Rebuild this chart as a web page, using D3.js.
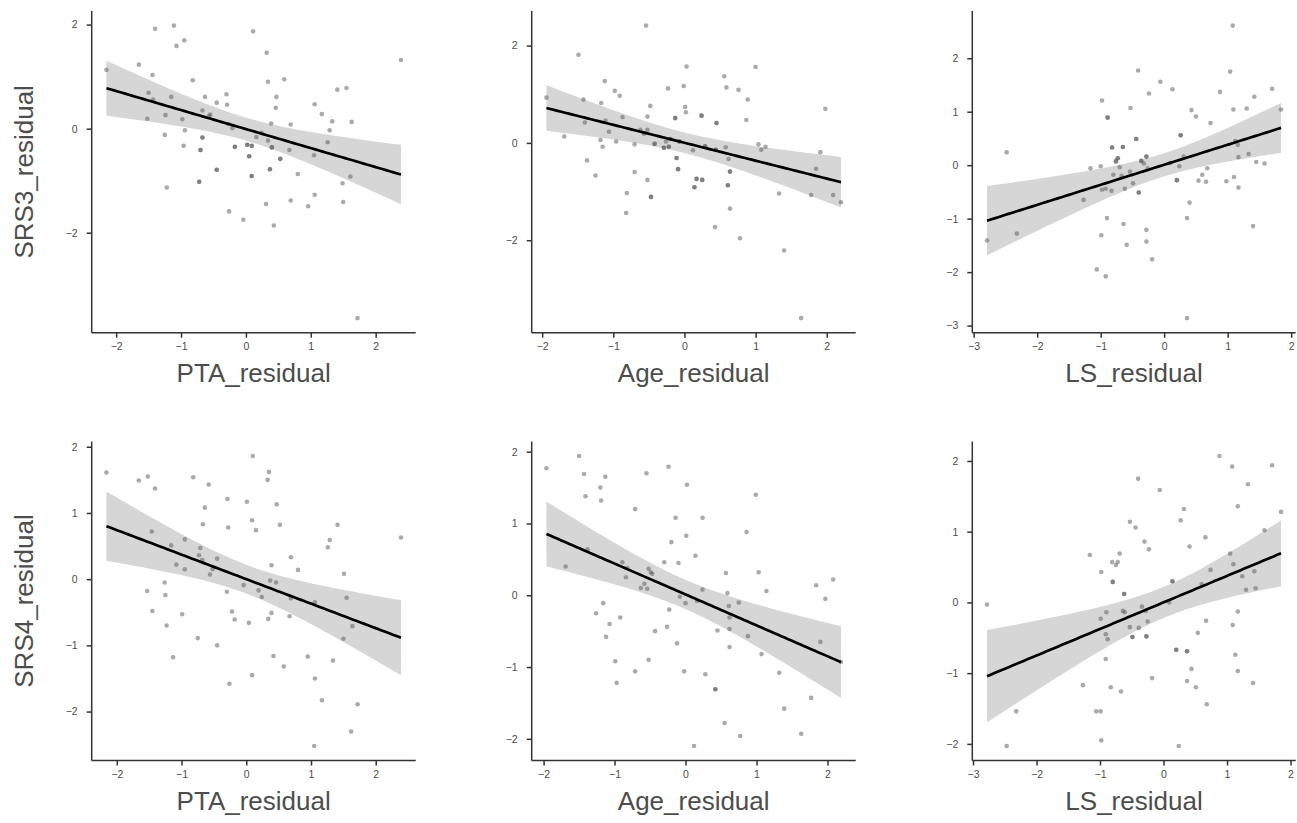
<!DOCTYPE html>
<html><head><meta charset="utf-8">
<script src="https://cdn.jsdelivr.net/npm/d3@7"></script>
<style>
body{margin:0;background:#fff}
svg{display:block}
text{font-family:"Liberation Sans",Arial,Helvetica,sans-serif}
</style>
</head><body>
<svg id="chart" width="1297" height="823"></svg>
<script>
// ---------------- data ----------------
const xTitles = ["PTA_residual", "Age_residual", "LS_residual"];
const yTitles = ["SRS3_residual", "SRS4_residual"];

const xTicksPTA = [-2, -1, 0, 1, 2];
const xTicksAge = [-2, -1, 0, 1, 2];
const xTicksLS  = [-3, -2, -1, 0, 1, 2];
const yTicksSRS3a = [-2, 0, 2];
const yTicksSRS3b = [-3, -2, -1, 0, 1, 2];
const yTicksSRS4 = [-2, -1, 0, 1, 2];

// [x, y] per participant
const PTA_SRS3 = [[-2.15,1.13],[-1.65,1.23],[-1.44,1.03],[-1.40,1.92],[-1.11,1.98],[-1.07,1.59],[-0.95,1.70],[-1.50,0.69],[-1.43,0.56],[-1.52,0.19],[-1.24,0.26],[-1.15,0.61],[-1.25,-0.12],[-1.22,-1.13],[-0.98,0.18],[-0.94,-0.03],[-0.96,-0.33],[-0.82,0.93],[-0.67,-0.17],[-0.70,-0.41],[-0.72,-1.02],[-0.63,0.61],[-0.67,0.35],[-0.55,0.27],[-0.57,0.24],[-0.45,0.50],[-0.30,0.66],[-0.29,0.46],[-0.45,-0.79],[-0.26,-1.59],[-0.21,0.01],[-0.17,-0.35],[-0.27,0.09],[-0.04,-1.75],[0.02,-0.31],[0.09,-0.33],[0.05,-0.53],[0.09,-0.91],[0.11,1.87],[0.16,-0.16],[0.24,-0.08],[0.32,1.46],[0.34,0.90],[0.34,-0.23],[0.39,0.10],[0.40,-0.36],[0.31,-1.45],[0.37,-0.78],[0.43,-1.86],[0.47,0.61],[0.46,0.40],[0.53,-0.58],[0.59,0.95],[0.69,0.08],[0.67,-0.41],[0.69,-1.38],[0.80,-0.87],[0.96,-1.49],[1.06,0.47],[1.05,-0.51],[1.06,-1.27],[1.17,0.28],[1.26,-0.26],[1.29,-0.03],[1.33,0.14],[1.41,0.75],[1.55,0.78],[1.63,0.13],[1.61,-0.92],[1.49,-1.05],[1.50,-1.41],[1.72,-3.64],[2.39,1.32]];
// points that appear darker (overplotted) in the figure
const PTA_SRS3_dark = [[-0.67,-0.17],[-0.70,-0.41],[-0.72,-1.02],[-0.45,-0.79],[-0.17,-0.35],[0.02,-0.31],[0.09,-0.33],[0.05,-0.53],[0.09,-0.91],[0.40,-0.36],[0.37,-0.78],[0.53,-0.58]];

const Age_SRS3 = [[-1.94,0.93],[-1.69,0.13],[-1.49,1.81],[-1.42,0.89],[-1.40,0.42],[-1.37,-0.36],[-1.25,-0.67],[-1.18,0.06],[-1.17,0.82],[-1.15,-0.08],[-1.12,1.27],[-1.11,0.46],[-1.06,0.23],[-0.98,1.07],[-0.96,0.03],[-0.91,0.97],[-0.87,0.53],[-0.82,-1.44],[-0.81,-1.03],[-0.70,-0.03],[-0.70,-0.60],[-0.62,0.27],[-0.57,0.19],[-0.54,2.41],[-0.52,0.27],[-0.52,0.54],[-0.52,-0.76],[-0.48,0.76],[-0.47,-1.11],[-0.42,-0.02],[-0.29,-0.10],[-0.26,0.03],[-0.23,1.12],[-0.22,-0.08],[-0.20,0.08],[-0.13,0.51],[-0.11,-0.31],[-0.09,-0.54],[-0.07,0.03],[-0.01,1.17],[0.01,0.74],[0.02,0.63],[0.03,1.57],[0.12,-0.15],[0.17,-0.74],[0.24,0.56],[0.25,-0.76],[0.14,-0.91],[0.29,-0.07],[0.43,-1.73],[0.44,-0.14],[0.45,0.41],[0.56,1.37],[0.58,-0.09],[0.59,1.14],[0.62,-0.33],[0.64,-0.59],[0.61,-0.87],[0.64,-1.35],[0.76,1.09],[0.78,-1.96],[0.87,0.47],[0.89,0.89],[1.00,1.56],[1.04,-0.03],[1.08,-0.14],[1.14,-0.08],[1.33,-1.04],[1.40,-2.21],[1.64,-3.60],[1.78,-1.07],[1.85,-0.53],[1.91,-0.19],[1.98,0.70],[2.09,-1.07],[2.20,-1.22]];
const Age_SRS3_dark = [[-0.47,-1.11],[-0.42,-0.02],[-0.29,-0.10],[-0.22,-0.08],[-0.20,0.08],[-0.13,0.51],[-0.11,-0.31],[-0.09,-0.54],[-0.07,0.03],[0.17,-0.74],[0.24,0.56],[0.25,-0.76],[0.14,-0.91],[0.29,-0.07],[0.44,-0.14],[0.45,0.41],[0.64,-0.59],[0.61,-0.87]];

const LS_SRS3 = [[-2.79,-1.41],[-2.48,0.24],[-2.32,-1.28],[-1.27,-0.65],[-1.16,-0.06],[-1.06,-1.95],[-1.00,-0.02],[-0.99,-1.31],[-0.98,1.21],[-0.98,-0.46],[-0.92,-0.44],[-0.92,-2.08],[-0.90,-0.99],[-0.89,0.89],[-0.83,-0.48],[-0.82,0.33],[-0.80,-0.18],[-0.76,0.07],[-0.73,0.13],[-0.70,-0.04],[-0.67,-0.20],[-0.65,0.34],[-0.64,-1.10],[-0.62,-0.44],[-0.59,-1.49],[-0.54,-0.12],[-0.53,1.07],[-0.49,-0.34],[-0.44,0.49],[-0.41,1.77],[-0.40,-0.51],[-0.36,0.08],[-0.32,0.03],[-0.28,0.16],[-0.28,-1.21],[-0.28,-1.43],[-0.26,-0.06],[-0.24,1.34],[-0.19,-1.76],[-0.06,1.56],[0.09,0.04],[0.13,1.42],[0.20,-0.28],[0.24,-0.02],[0.26,0.56],[0.31,0.16],[0.36,-0.99],[0.36,-2.86],[0.40,-0.70],[0.43,1.03],[0.50,0.91],[0.54,-0.29],[0.60,-0.18],[0.66,-0.31],[0.68,-0.06],[0.73,0.79],[0.88,1.37],[0.98,-0.30],[1.04,1.75],[1.08,2.61],[1.09,1.04],[1.10,-0.22],[1.12,0.45],[1.16,0.38],[1.17,-0.42],[1.17,0.15],[1.30,1.06],[1.33,0.21],[1.40,-1.14],[1.42,1.28],[1.45,0.06],[1.58,0.03],[1.70,1.43],[1.84,1.04]];
const LS_SRS3_dark = [[-0.89,0.89],[-0.82,0.33],[-0.76,0.07],[-0.73,0.13],[-0.65,0.34],[-0.44,0.49],[-0.40,-0.51],[-0.36,0.08],[-0.28,0.16],[0.20,-0.28],[0.26,0.56]];

const PTA_SRS4 = [[-2.16,1.61],[-1.66,1.49],[-1.52,1.55],[-1.41,1.37],[-1.46,0.72],[-1.53,-0.18],[-1.45,-0.48],[-1.26,-0.05],[-1.25,-0.24],[-1.23,-0.70],[-1.16,0.51],[-1.13,-1.18],[-1.08,0.22],[-0.95,0.60],[-0.95,0.15],[-0.99,-0.53],[-0.82,1.54],[-0.75,-0.89],[-0.73,0.36],[-0.71,0.47],[-0.68,0.29],[-0.67,0.83],[-0.64,1.08],[-0.58,1.43],[-0.56,0.07],[-0.52,0.15],[-0.45,-1.00],[-0.45,0.31],[-0.30,-0.19],[-0.29,1.21],[-0.28,0.78],[-0.26,-1.58],[-0.22,-0.49],[-0.18,-0.61],[-0.04,-0.09],[0.01,1.17],[0.04,-0.66],[0.09,0.89],[0.09,-1.45],[0.10,1.86],[0.15,0.74],[0.19,-0.17],[0.24,-0.27],[0.33,1.50],[0.35,1.62],[0.34,-0.60],[0.37,-0.02],[0.39,-0.51],[0.39,0.21],[0.42,-1.16],[0.46,-0.05],[0.47,1.13],[0.52,0.82],[0.58,-1.32],[0.67,-0.56],[0.69,0.33],[0.69,-0.29],[0.80,0.14],[0.95,-1.17],[1.06,-0.35],[1.06,-1.50],[1.05,-2.52],[1.17,-1.83],[1.26,0.48],[1.29,0.59],[1.34,-1.23],[1.41,0.82],[1.51,0.08],[1.50,-0.90],[1.55,-0.28],[1.62,-2.30],[1.64,-0.71],[1.72,-1.89],[2.39,0.63]];
const PTA_SRS4_dark = [];

const Age_SRS4 = [[-1.96,1.77],[-1.69,0.40],[-1.50,1.94],[-1.43,1.69],[-1.41,1.38],[-1.38,0.64],[-1.26,-0.25],[-1.20,1.50],[-1.19,1.32],[-1.16,-0.11],[-1.13,1.65],[-1.12,-0.58],[-1.07,-0.40],[-0.99,-0.92],[-0.97,-1.22],[-0.92,-0.31],[-0.89,0.46],[-0.84,0.25],[-0.82,0.38],[-0.71,1.20],[-0.71,-1.06],[-0.63,0.10],[-0.58,0.16],[-0.55,1.70],[-0.54,0.09],[-0.52,0.37],[-0.49,0.32],[-0.47,0.30],[-0.52,-0.90],[-0.43,-0.50],[-0.30,0.46],[-0.26,-0.44],[-0.24,1.79],[-0.23,-0.20],[-0.20,0.74],[-0.14,1.08],[-0.12,-0.67],[-0.10,0.45],[-0.08,-0.02],[-0.02,-1.06],[0.00,-0.11],[0.01,0.83],[0.02,1.54],[0.12,-2.10],[0.14,0.55],[0.16,-0.08],[0.24,1.08],[0.24,0.08],[0.28,-1.10],[0.42,-1.31],[0.45,-0.49],[0.55,-1.78],[0.57,0.31],[0.59,0.03],[0.61,-0.15],[0.62,-0.31],[0.62,-0.72],[0.62,-0.47],[0.75,-0.10],[0.77,-1.96],[0.86,0.88],[0.88,-0.57],[0.99,1.40],[1.03,0.32],[1.07,-0.82],[1.14,0.06],[1.32,-1.08],[1.39,-1.58],[1.63,-1.93],[1.77,-1.43],[1.84,0.14],[1.90,-0.65],[1.97,-0.05],[2.08,0.22],[2.19,-0.93]];
const Age_SRS4_dark = [[0.42,-1.31]];

const LS_SRS4 = [[-2.78,-0.03],[-2.47,-2.03],[-2.32,-1.54],[-1.27,-1.17],[-1.16,0.67],[-1.06,-1.54],[-0.99,-1.54],[-0.99,-0.23],[-0.98,0.43],[-0.98,-1.95],[-0.91,-0.45],[-0.90,-0.14],[-0.88,-0.52],[-0.91,-0.80],[-0.83,-1.20],[-0.81,0.57],[-0.80,0.29],[-0.75,0.53],[-0.72,0.57],[-0.69,0.69],[-0.67,-1.26],[-0.64,-0.12],[-0.62,0.12],[-0.61,-0.14],[-0.53,-0.35],[-0.53,1.14],[-0.49,-0.49],[-0.44,1.06],[-0.40,1.75],[-0.39,-0.36],[-0.34,-0.06],[-0.30,0.86],[-0.28,-0.12],[-0.27,-0.48],[-0.25,-0.27],[-0.23,0.75],[-0.18,-1.07],[-0.06,1.59],[0.09,0.00],[0.14,0.30],[0.20,-0.67],[0.24,-2.03],[0.27,1.16],[0.32,1.32],[0.37,-0.69],[0.37,-1.11],[0.41,0.79],[0.44,-0.94],[0.51,-1.20],[0.54,-0.43],[0.60,0.26],[0.66,0.92],[0.67,-0.26],[0.68,-1.44],[0.74,0.46],[0.88,2.07],[1.05,0.69],[1.08,1.92],[1.09,-0.32],[1.10,0.54],[1.13,-0.74],[1.17,-0.13],[1.17,1.36],[1.17,-0.97],[1.24,0.37],[1.30,0.18],[1.33,1.67],[1.41,-1.14],[1.43,0.44],[1.45,0.20],[1.59,1.02],[1.71,1.94],[1.85,1.28]];
const LS_SRS4_dark = [[-0.80,0.29],[-0.62,0.12],[-0.49,-0.49],[-0.27,-0.48],[0.14,0.30],[0.20,-0.67],[0.37,-0.69]];

// ---------------- layout ----------------
const colL = [91.7, 531.7, 972.3], colR = [415.7, 855.7, 1295.7];
const rowT = [11, 441.5], rowB = [332.7, 760.5];

const panels = [
  {r:0,c:0,pts:PTA_SRS3,dk:PTA_SRS3_dark,xt:xTicksPTA,yt:yTicksSRS3a},
  {r:0,c:1,pts:Age_SRS3,dk:Age_SRS3_dark,xt:xTicksAge,yt:yTicksSRS3a},
  {r:0,c:2,pts:LS_SRS3,dk:LS_SRS3_dark,xt:xTicksLS,yt:yTicksSRS3b},
  {r:1,c:0,pts:PTA_SRS4,dk:PTA_SRS4_dark,xt:xTicksPTA,yt:yTicksSRS4},
  {r:1,c:1,pts:Age_SRS4,dk:Age_SRS4_dark,xt:xTicksAge,yt:yTicksSRS4},
  {r:1,c:2,pts:LS_SRS4,dk:LS_SRS4_dark,xt:xTicksLS,yt:yTicksSRS4}
];

const svg = d3.select("#chart");
const AX = "#333333", TXT = "#4d4d4d";

function expanded(vals){
  const [a,b] = d3.extent(vals); const e = (b-a)*0.05; return [a-e, b+e];
}
function tq975(df){
  const z = 1.959963985;
  return z + (z**3+z)/(4*df) + (5*z**5+16*z**3+3*z)/(96*df*df) + (3*z**7+19*z**5+17*z**3-15*z)/(384*df**3);
}
function fit(data){
  const n = data.length;
  const mx = d3.mean(data,d=>d[0]), my = d3.mean(data,d=>d[1]);
  let sxx=0,sxy=0; data.forEach(d=>{sxx+=(d[0]-mx)**2; sxy+=(d[0]-mx)*(d[1]-my);});
  const b = sxy/sxx, a = my-b*mx;
  let sse=0; data.forEach(d=>{sse+=(d[1]-a-b*d[0])**2;});
  const s = Math.sqrt(sse/(n-2)), t = tq975(n-2);
  const [x0,x1] = d3.extent(data,d=>d[0]);
  return d3.range(80).map(i=>{
    const x = x0 + (x1-x0)*i/79, yh = a+b*x;
    const se = s*Math.sqrt(1/n + (x-mx)**2/sxx);
    return {x, y:yh, lo:yh-t*se, hi:yh+t*se};
  });
}

panels.forEach(p=>{
  const x = d3.scaleLinear().domain(expanded(p.pts.map(d=>d[0]))).range([colL[p.c], colR[p.c]]);
  const y = d3.scaleLinear().domain(expanded(p.pts.map(d=>d[1]))).range([rowB[p.r], rowT[p.r]]);
  const g = svg.append("g");
  const sm = fit(p.pts);

  g.append("path").datum(sm)
    .attr("d", d3.area().x(d=>x(d.x)).y0(d=>y(d.lo)).y1(d=>y(d.hi)))
    .attr("fill","#999999").attr("fill-opacity",0.4);

  g.selectAll("circle.p").data(p.pts.concat(p.dk)).join("circle").attr("class","p")
    .attr("cx",d=>x(d[0])).attr("cy",d=>y(d[1])).attr("r",2.3)
    .attr("fill","#555555").attr("fill-opacity",0.5);

  g.append("path").datum(sm)
    .attr("d", d3.line().x(d=>x(d.x)).y(d=>y(d.y)))
    .attr("fill","none").attr("stroke","#000").attr("stroke-width",2.7);

  // axes
  const xa = g.append("g").attr("transform",`translate(0,${rowB[p.r]})`)
    .call(d3.axisBottom(x).tickValues(p.xt).tickSize(5).tickSizeOuter(0).tickPadding(5).tickFormat(d3.format("d")));
  const ya = g.append("g").attr("transform",`translate(${colL[p.c]},0)`)
    .call(d3.axisLeft(y).tickValues(p.yt).tickSize(5).tickSizeOuter(0).tickPadding(9).tickFormat(d3.format("d")));
  [xa,ya].forEach(a=>{
    a.select(".domain").attr("stroke",AX).attr("stroke-width",1.5);
    a.selectAll(".tick line").attr("stroke",AX).attr("stroke-width",1.5);
    a.selectAll(".tick text").attr("fill",TXT).attr("font-size",10.5)
      .attr("font-family",'"Liberation Sans",Arial,sans-serif');
  });
  xa.select(".domain").attr("d",`M${colL[p.c]},0H${colR[p.c]}`);
  ya.select(".domain").attr("d",`M0,${rowB[p.r]}V${rowT[p.r]}`);

  // x title
  g.append("text").attr("x",(colL[p.c]+colR[p.c])/2).attr("y",rowB[p.r]+49)
    .attr("text-anchor","middle").attr("font-size",26).attr("fill",TXT).text(xTitles[p.c]);
});

// y titles
yTitles.forEach((t,i)=>{
  const cy = (rowT[i]+rowB[i])/2;
  svg.append("text").attr("transform",`translate(33.3,${cy}) rotate(-90)`)
    .attr("text-anchor","middle").attr("font-size",26).attr("fill",TXT).text(t);
});
</script>
</body></html>
